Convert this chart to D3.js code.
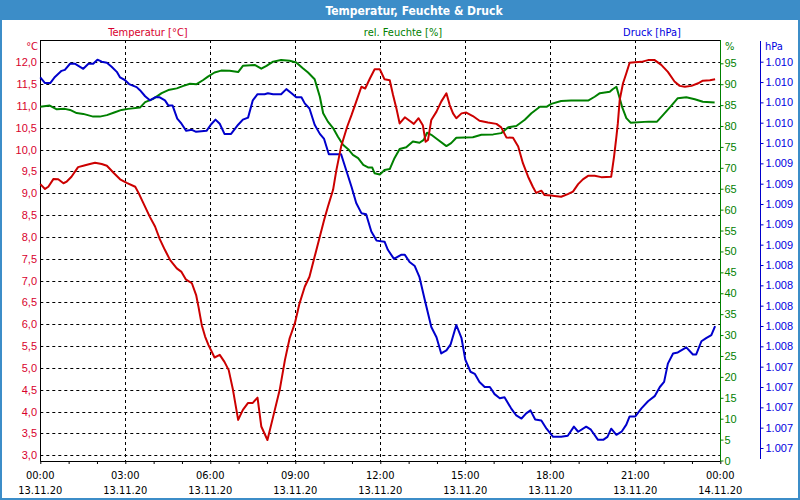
<!DOCTYPE html>
<html><head><meta charset="utf-8">
<script src="https://cdn.jsdelivr.net/npm/d3@7/dist/d3.min.js"></script>
<style>
html,body{margin:0;padding:0;background:#fff;}
svg{display:block;font-family:"DejaVu Sans Condensed","DejaVu Sans",sans-serif;font-stretch:condensed;}
</style></head><body>
<svg id="c" width="800" height="500"></svg>
<script>
// ---------- DATA ----------
const chartTitle = "Temperatur, Feuchte & Druck";
const seriesNames = ["Temperatur [°C]", "rel. Feuchte [%]", "Druck [hPa]"];
const unitLabels = ["°C", "%", "hPa"];

const timeTickMinutes = [0, 180, 360, 540, 720, 900, 1080, 1260, 1440];
const timeTickLabels = ["00:00","03:00","06:00","09:00","12:00","15:00","18:00","21:00","00:00"];
const dateTickLabels = ["13.11.20","13.11.20","13.11.20","13.11.20","13.11.20","13.11.20","13.11.20","13.11.20","14.11.20"];
const hourTickMinutes = d3.range(0, 1441, 60);

const tempTicks = [3.0,3.5,4.0,4.5,5.0,5.5,6.0,6.5,7.0,7.5,8.0,8.5,9.0,9.5,10.0,10.5,11.0,11.5,12.0];
const humTicks = [0,5,10,15,20,25,30,35,40,45,50,55,60,65,70,75,80,85,90,95];
const pressTicks = [1006.6,1006.8,1007.0,1007.2,1007.4,1007.6,1007.8,1008.0,1008.2,1008.4,1008.6,1008.8,1009.0,1009.2,1009.4,1009.6,1009.8,1010.0,1010.2,1010.4];

// minutes since 13.11.20 00:00
const tempMinutes = [0,10,17,28,38,49,56,66,80,91,105,116,130,141,155,169,183,201,208,218,232,243,253,264,275,289,299,308,321,330,335,342,349,356,369,380,390,399,408,419,429,440,450,460,468,481,493,507,518,528,539,549,560,570,581,592,601,609,620,627,637,650,659,669,680,688,698,708,719,729,740,747,754,761,772,782,791,801,810,816,821,828,839,849,860,867,874,881,892,902,916,930,948,966,976,987,1001,1012,1022,1033,1043,1050,1061,1068,1082,1089,1103,1117,1128,1139,1149,1160,1174,1188,1209,1215,1220,1223,1227,1234,1241,1248,1259,1273,1287,1301,1315,1329,1343,1354,1365,1379,1393,1403,1418,1429];
const tempValues = [9.21,9.10,9.15,9.33,9.32,9.23,9.27,9.38,9.60,9.63,9.67,9.70,9.67,9.63,9.47,9.32,9.24,9.15,9.01,8.78,8.46,8.24,7.95,7.70,7.47,7.28,7.20,7.03,6.94,6.67,6.40,5.98,5.72,5.53,5.24,5.30,5.14,4.95,4.50,3.81,4.04,4.20,4.20,4.32,3.66,3.35,3.88,4.50,5.18,5.68,6.02,6.48,6.86,7.09,7.55,8.01,8.39,8.69,9.08,9.53,10.07,10.53,10.79,11.10,11.44,11.40,11.63,11.84,11.84,11.61,11.59,11.25,10.95,10.60,10.74,10.66,10.59,10.72,10.56,10.18,10.22,10.68,10.87,11.10,11.29,11.02,10.83,10.72,10.83,10.85,10.77,10.66,10.62,10.59,10.51,10.28,10.27,10.07,9.69,9.38,9.15,9.01,9.06,8.96,8.95,8.94,8.92,8.98,9.04,9.21,9.32,9.40,9.40,9.37,9.38,9.84,10.30,10.60,11.14,11.52,11.75,11.99,12.00,12.01,12.05,12.05,11.94,11.78,11.56,11.46,11.44,11.46,11.52,11.58,11.59,11.61];

const humMinutes = [0,20,35,52,63,77,91,112,126,141,158,172,186,211,222,239,257,271,289,303,317,331,345,355,369,383,401,419,429,454,468,479,493,510,528,542,556,567,581,592,599,609,620,630,641,652,662,673,684,694,703,708,719,729,740,750,761,775,789,803,812,819,828,842,860,870,881,916,934,959,976,991,1008,1026,1040,1058,1072,1082,1103,1124,1160,1174,1185,1206,1212,1220,1225,1232,1241,1250,1288,1306,1319,1336,1350,1368,1386,1403,1428];
const humValues = [84.6,84.9,84.0,84.1,83.85,83.1,82.9,82.25,82.25,82.6,83.3,83.85,84.1,84.4,85.7,86.5,87.85,88.6,89.0,89.6,90.1,90.0,91.0,91.8,92.8,93.25,93.2,92.9,94.4,94.6,93.7,94.4,95.4,95.8,95.6,95.2,93.8,92.8,91.2,87.0,83.06,81.05,79.5,77.5,75.5,74.45,73.1,72.3,70.7,70.1,70.05,68.7,68.4,69.5,69.7,72.3,74.5,74.9,76.3,76.0,76.7,78.4,77.9,76.7,75.2,75.9,77.2,77.3,77.9,78.0,78.3,79.7,80.0,81.5,83.06,84.6,84.6,85.3,86.0,86.1,86.1,87.0,87.85,88.2,88.8,89.4,87.4,84.6,81.9,80.8,81.05,81.05,82.65,84.8,86.65,86.9,86.4,85.8,85.6];

const pressMinutes = [0,10,21,31,45,52,63,73,91,102,112,121,130,141,151,162,169,179,188,204,211,222,232,243,253,264,271,280,290,299,309,321,330,352,361,371,380,390,404,419,429,440,450,460,475,482,493,510,521,532,542,553,560,570,581,592,601,611,637,648,659,669,680,690,701,712,729,736,749,764,772,782,793,803,814,828,839,849,860,869,881,892,900,911,920,930,941,952,962,973,983,997,1008,1019,1029,1038,1048,1061,1072,1086,1103,1117,1130,1139,1156,1166,1181,1192,1201,1209,1220,1231,1241,1248,1260,1273,1287,1301,1312,1321,1329,1340,1350,1368,1382,1389,1400,1410,1421,1429];
const pressValues = [1010.245,1010.19,1010.19,1010.25,1010.31,1010.32,1010.38,1010.38,1010.33,1010.38,1010.38,1010.42,1010.40,1010.39,1010.35,1010.30,1010.245,1010.22,1010.18,1010.15,1010.12,1010.06,1010.02,1010.05,1010.05,1010.02,1009.97,1009.97,1009.84,1009.79,1009.72,1009.73,1009.71,1009.72,1009.78,1009.83,1009.79,1009.69,1009.69,1009.78,1009.83,1009.85,1010.02,1010.08,1010.08,1010.09,1010.08,1010.08,1010.13,1010.09,1010.05,1010.05,1009.99,1009.94,1009.78,1009.69,1009.64,1009.49,1009.49,1009.33,1009.17,1009.01,1008.91,1008.90,1008.73,1008.64,1008.63,1008.55,1008.46,1008.50,1008.50,1008.43,1008.39,1008.28,1008.06,1007.79,1007.69,1007.53,1007.56,1007.62,1007.81,1007.68,1007.47,1007.35,1007.33,1007.25,1007.20,1007.20,1007.13,1007.09,1007.10,1006.99,1006.92,1006.89,1006.94,1006.97,1006.88,1006.87,1006.79,1006.71,1006.71,1006.72,1006.81,1006.76,1006.81,1006.78,1006.68,1006.68,1006.71,1006.79,1006.73,1006.76,1006.83,1006.91,1006.91,1006.99,1007.06,1007.11,1007.20,1007.25,1007.43,1007.53,1007.54,1007.59,1007.52,1007.52,1007.65,1007.68,1007.71,1007.80];

// ---------- STYLE ----------
const frameBlue = "#3c8dc8";
const cTempLine = "#cc0000", cTempText = "#d8002c";
const cHum = "#008000";
const cPressLine = "#0000cc", cPressText = "#0000e0";

const de = d3.formatLocale({decimal: ",", thousands: ".", grouping: [3], currency: ["", "€"]});
const fmtTemp = de.format(",.1f");
const fmtPress = de.format(",.0f");

const svg = d3.select("#c");
const plot = {left: 40.3, right: 720.3, top: 40, bottom: 461};

const x = d3.scaleLinear().domain([0, 1440]).range([plot.left, plot.right]);
const yT = d3.scaleLinear().domain([3.0, 12.0]).range([455.3, 62.3]);
const yH = d3.scaleLinear().domain([0, 95]).range([460.5, 63.3]);
const yP = d3.scaleLinear().domain([1006.6, 1010.4]).range([448, 61.7]);

// background + frame
svg.append("rect").attr("x", 0).attr("y", 0).attr("width", 800).attr("height", 500).attr("fill", "#fff");
svg.append("rect").attr("x", 0).attr("y", 0).attr("width", 800).attr("height", 20).attr("fill", frameBlue);
svg.append("rect").attr("x", 1).attr("y", 1).attr("width", 798).attr("height", 498)
  .attr("fill", "none").attr("stroke", frameBlue).attr("stroke-width", 2);
svg.append("text").attr("x", 414).attr("y", 14.5).attr("text-anchor", "middle")
  .attr("fill", "#fff").attr("font-weight", "bold").attr("font-size", 12).text(chartTitle);

// legend
const legendX = [148, 403, 652];
const legendColors = [cTempText, cHum, cPressText];
seriesNames.forEach((n, i) => {
  svg.append("text").attr("x", legendX[i]).attr("y", 36).attr("text-anchor", "middle")
    .attr("font-size", 11).attr("fill", legendColors[i]).text(n);
});

// gridlines
const g = svg.append("g");
g.selectAll("line.hg").data(tempTicks).join("line")
  .attr("x1", plot.left).attr("x2", plot.right)
  .attr("y1", d => Math.round(yT(d)) + 0.5).attr("y2", d => Math.round(yT(d)) + 0.5)
  .attr("stroke", "#000").attr("stroke-dasharray", "3,3");
g.selectAll("line.vg").data(timeTickMinutes.slice(1, -1)).join("line")
  .attr("x1", d => Math.round(x(d)) + 0.5).attr("x2", d => Math.round(x(d)) + 0.5)
  .attr("y1", plot.top).attr("y2", plot.bottom)
  .attr("stroke", "#000").attr("stroke-dasharray", "3,3");

// plot frame: top + left black
svg.append("line").attr("x1", 40.5).attr("x2", 720).attr("y1", 40.5).attr("y2", 40.5).attr("stroke", "#000");
svg.append("line").attr("x1", 40.5).attr("x2", 40.5).attr("y1", 40).attr("y2", 461).attr("stroke", "#000");

// x axis
const xAxis = svg.append("g").attr("transform", "translate(0,461)")
  .call(d3.axisBottom(x).tickValues(hourTickMinutes).tickSize(3).tickFormat(""));
xAxis.select(".domain").attr("stroke", "#000").attr("d", `M${plot.left},0.5H${plot.right}`);
xAxis.selectAll(".tick line").attr("stroke", "#000");
timeTickMinutes.forEach((m, i) => {
  svg.append("text").attr("x", x(m)).attr("y", 479).attr("text-anchor", "middle")
    .attr("font-size", 11).attr("fill", "#000").text(timeTickLabels[i]);
  svg.append("text").attr("x", x(m)).attr("y", 494).attr("text-anchor", "middle")
    .attr("font-size", 11).attr("fill", "#000").text(dateTickLabels[i]);
});

// left temperature axis labels
const aT = svg.append("g").attr("transform", "translate(40,0)")
  .call(d3.axisLeft(yT).tickValues(tempTicks).tickSize(0).tickPadding(3).tickFormat(fmtTemp));
aT.select(".domain").remove();
aT.selectAll("text").attr("fill", cTempText).attr("font-size", 11).attr("font-family", null);
svg.append("text").attr("x", 38).attr("y", 50).attr("text-anchor", "end").attr("font-size", 11)
  .attr("fill", cTempText).text(unitLabels[0]);

// right humidity axis
const aH = svg.append("g").attr("transform", "translate(720.5,0)")
  .call(d3.axisRight(yH).tickValues(humTicks).tickSize(3).tickPadding(1).tickFormat(d3.format("d")));
aH.select(".domain").attr("stroke", cHum).attr("d", "M0,40V461");
aH.selectAll(".tick line").attr("stroke", cHum);
aH.selectAll("text").attr("fill", cHum).attr("font-size", 11).attr("font-family", null);
svg.append("text").attr("x", 725).attr("y", 50).attr("font-size", 11).attr("fill", cHum).text(unitLabels[1]);

// right pressure axis
const aP = svg.append("g").attr("transform", "translate(760.5,0)")
  .call(d3.axisRight(yP).tickValues(pressTicks).tickSize(3).tickPadding(2).tickFormat(fmtPress));
aP.select(".domain").attr("stroke", cPressLine).attr("d", "M0,41V459");
aP.selectAll(".tick line").attr("stroke", cPressLine);
aP.selectAll("text").attr("fill", cPressText).attr("font-size", 11).attr("font-family", null);
svg.append("text").attr("x", 765).attr("y", 50).attr("font-size", 11).attr("fill", cPressText).text(unitLabels[2]);

// series lines
function drawLine(mins, vals, yScale, color) {
  const pts = mins.map((m, i) => [m, vals[i]]);
  svg.append("path").datum(pts)
    .attr("fill", "none").attr("stroke", color).attr("stroke-width", 2)
    .attr("stroke-linejoin", "round")
    .attr("d", d3.line().x(d => x(d[0])).y(d => yScale(d[1])));
}
drawLine(humMinutes, humValues, yH, cHum);
drawLine(pressMinutes, pressValues, yP, cPressLine);
drawLine(tempMinutes, tempValues, yT, cTempLine);
</script>
</body></html>
